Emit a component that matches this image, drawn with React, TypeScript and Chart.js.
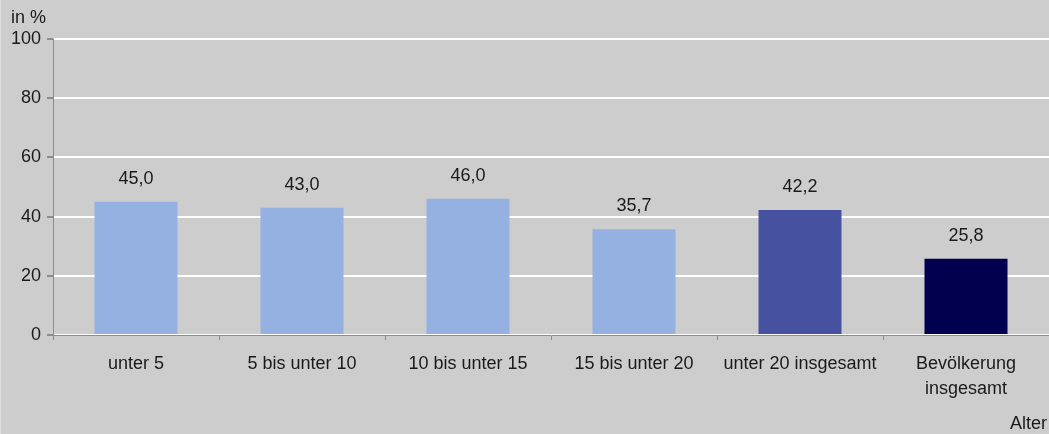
import React, { useEffect, useRef } from "react";
import { Chart, registerables } from "chart.js";

Chart.register(...registerables);

const categories: (string | string[])[] = [
  "unter 5",
  "5 bis unter 10",
  "10 bis unter 15",
  "15 bis unter 20",
  "unter 20 insgesamt",
  ["Bevölkerung", "insgesamt"],
];
const values = [45.0, 43.0, 46.0, 35.7, 42.2, 25.8];
const barColors = ["#95b1e1", "#95b1e1", "#95b1e1", "#95b1e1", "#4652a0", "#00004f"];
const yTicks = [0, 20, 40, 60, 80, 100];

const FONT = "Arial, 'Liberation Sans', sans-serif";
const FONT_SIZE = 18;

const labelPlugin = {
  id: "valueLabels",
  afterDatasetsDraw(chart: any) {
    const ctx = chart.ctx;
    const meta = chart.getDatasetMeta(0);
    ctx.save();
    ctx.font = `${FONT_SIZE}px ${FONT}`;
    ctx.fillStyle = "#1a1a1a";
    ctx.textAlign = "center";
    ctx.textBaseline = "middle";
    meta.data.forEach((bar: any, i: number) => {
      const txt = values[i].toFixed(1).replace(".", ",");
      ctx.fillText(txt, bar.x, bar.y - 23);
    });
    // axis captions
    ctx.textAlign = "left";
    ctx.fillText("in %", 11, 18);
    ctx.textAlign = "right";
    ctx.fillText("Alter", chart.width - 2, 424);
    ctx.restore();
  },
};

const bgPlugin = {
  id: "bg",
  beforeDraw(chart: any) {
    const ctx = chart.ctx;
    ctx.save();
    ctx.fillStyle = "#cdcdcd";
    ctx.fillRect(0, 0, chart.width, chart.height);
    ctx.fillStyle = "#dedede";
    ctx.fillRect(0, 0, 1, chart.height);
    ctx.restore();
  },
};

export default function App() {
  const ref = useRef<HTMLCanvasElement | null>(null);

  useEffect(() => {
    document.body.style.margin = "0";
    if (!ref.current) return;
    const chart = new Chart(ref.current, {
      type: "bar",
      data: {
        labels: categories,
        datasets: [
          {
            data: values,
            backgroundColor: barColors,
            barPercentage: 0.5,
            categoryPercentage: 1,
          },
        ],
      },
      options: {
        animation: false,
        responsive: false,
        maintainAspectRatio: false,
        layout: { padding: { top: 39, right: 0, left: 0, bottom: 0 } },
        plugins: { legend: { display: false }, tooltip: { enabled: false } },
        scales: {
          x: {
            grid: {
              offset: true,
              drawOnChartArea: false,
              drawTicks: true,
              tickLength: 5,
              tickColor: "#8c8c8c",
            },
            border: { color: "#8c8c8c", width: 1 },
            ticks: {
              color: "#1a1a1a",
              font: { family: FONT, size: FONT_SIZE, lineHeight: 1.4 },
              padding: 11,
              maxRotation: 0,
              autoSkip: false,
            },
            afterFit(scale: any) {
              scale.height = 99;
            },
          },
          y: {
            min: 0,
            max: 100,
            afterBuildTicks(scale: any) {
              scale.ticks = yTicks.map((v) => ({ value: v }));
            },
            grid: {
              color: "#ffffff",
              lineWidth: 2,
              tickLength: 6,
              tickColor: "#8c8c8c",
            },
            border: { color: "#8c8c8c", width: 1 },
            ticks: {
              color: "#1a1a1a",
              font: { family: FONT, size: FONT_SIZE },
              padding: 6,
            },
            afterFit(scale: any) {
              scale.width = 53;
            },
          },
        },
      },
      plugins: [bgPlugin, labelPlugin],
    });
    return () => chart.destroy();
  }, []);

  return (
    <div style={{ width: 1049, height: 434 }}>
      <canvas ref={ref} width={1049} height={434} style={{ display: "block" }} />
    </div>
  );
}
